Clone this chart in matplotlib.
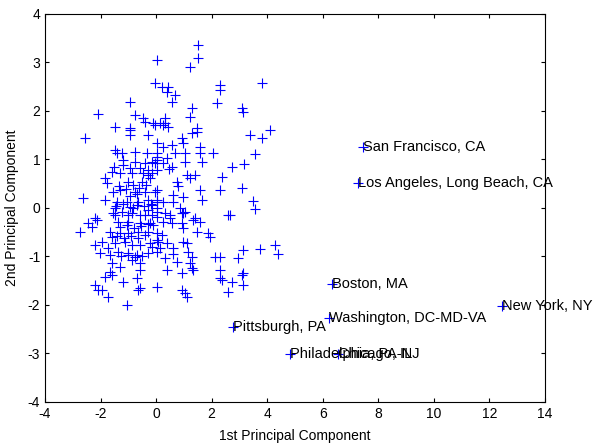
import numpy as np
import matplotlib
matplotlib.use("Agg")
import matplotlib.pyplot as plt

plt.rcParams["font.family"] = ["Liberation Sans", "DejaVu Sans"]
plt.rcParams["axes.unicode_minus"] = False

# scores on the first two principal components
pc1 = [
    0.03, -0.04, -0.94, -2.09, -0.76, -0.47, -0.04, -1.48, -0.94,
    1.51, 1.51, 1.22, 0.21, 0.43, 0.39, 0.68, 0.57, 2.30, 2.30, 2.19, 1.29, 1.22, 0.32, 0.25, 0.43, 1.47,
    3.81, 3.09, 3.13, 3.38, 3.81, 4.10, 3.56,
    3.16, 3.09, 3.49, 3.56, 3.13, 3.74, 4.28, 4.39, 2.95, 3.13, 2.73, 3.13, 2.59,
    -0.94, -0.94, -0.40, -0.29, -2.56, 0.03, -1.48, -1.41, -1.23, -0.76, -0.33, 0.03, -1.19, -0.76,
    -0.40, -0.15, 0.03, -0.94, -0.58, -0.29, -1.59, -1.30, -0.87, -0.47, -0.29, 0.03, -1.84, -1.01,
    -0.51, -0.22, -1.77, -1.30, -0.76, -0.40, 0.03, -1.55, -2.63, -1.84, -1.41, -1.05, -0.65, -0.29,
    0.03, -1.48, -0.83, -0.29, 0.03, -1.48, -1.01, -0.40, -2.20, 0.03,
    -0.11, 0.14, 0.32, 1.47, 0.93, 0.97, 1.29, 0.25, 0.57, 0.68, 1.04, 1.58, 1.58, 2.05, 0.03, 0.39,
    -0.04, 0.25, 0.57, 1.04, 1.65, 2.73, 1.11, 1.40, 1.22, 2.37, -0.15, 0.75, 1.58, 2.30, -0.04, 0.61,
    0.97, 1.65, 0.03, 0.25, -0.15, 0.61, 0.86, 0.50, 0.97, 2.66, 1.40,
    -1.55, -1.23, -0.87, -0.58, -0.15, -2.45, -2.13, -1.37, -1.01, -0.58, -0.22, -2.74, -2.31, -1.66,
    -1.30, -1.01, -0.65, -0.29, 0.03, -2.20, -1.95, -1.73, -1.48, -1.12, -0.87, -0.58, -0.22, 0.07,
    -2.02, -1.66, -1.37, -1.01, -0.69, -0.29, 0.03, -1.59, -1.30, -0.87, -0.58, -1.66, -1.59, -1.19,
    -0.69, -0.58, 0.03, -2.20, -2.09, -1.95, -0.65, -1.73, -1.05,
    0.03, 0.32, 0.50, 0.93, 1.04, 1.33, 1.58, -0.11, 0.25, 0.57, 0.93, 0.97, 1.47, 1.87, 1.94, 0.03,
    0.39, -0.15, 0.14, 0.61, 0.97, 1.11, 1.15, 1.29, 0.32, 0.75, 1.22, 1.29, 2.12, 2.30, 2.30, 0.39,
    0.93, 2.37, 0.93, 1.11, 2.59,
    -1.84, -0.58, 1.33, 1.04, 2.30, 3.09,
    # denser core
    -1.35, -1.10, -0.85, -0.60, -0.35, -1.45, -1.20, -0.95, -0.70, -0.45, -0.20,
    -1.30, -1.05, -0.80, -0.55, -0.30, -1.60, -1.40, -1.15, -0.90, -0.65, -0.40,
    -1.25, -1.00, -0.75, -0.50, -1.50, -1.20, -0.95, -0.70, 0.45, 0.80, 0.20, 0.60,
]
pc2 = [
    3.05, 2.58, 2.19, 1.94, 1.92, 1.86, 1.71, 1.67, 1.65,
    3.36, 3.09, 2.91, 2.49, 2.49, 2.39, 2.33, 2.19, 2.54, 2.43, 2.16, 2.06, 1.88, 1.86, 1.71, 1.67, 1.65,
    2.58, 2.06, 1.98, 1.51, 1.44, 1.61, 1.11,
    0.91, 0.41, 0.14, -0.02, -0.87, -0.85, -0.76, -0.95, -1.03, -1.34, -1.53, -1.59, -1.73,
    1.61, 1.51, 1.77, 1.51, 1.44, 1.34, 1.20, 1.13, 1.13, 1.15, 1.13, 1.13, 0.99, 0.95,
    0.93, 0.95, 0.99, 0.82, 0.82, 0.78, 0.74, 0.72, 0.72, 0.72, 0.68, 0.78, 0.62, 0.54,
    0.54, 0.62, 0.52, 0.37, 0.33, 0.33, 0.37, 0.33, 0.21, 0.16, 0.12, 0.12, 0.12, 0.16,
    0.12, 0.00, 0.00, -0.04, 0.00, -0.14, -0.14, -0.14, -0.21, -0.19,
    1.75, 1.75, 1.75, 1.57, 1.44, 1.34, 1.55, 1.26, 1.30, 1.13, 1.13, 1.26, 1.13, 1.13, 1.05, 1.03,
    0.93, 0.93, 0.85, 0.95, 0.95, 0.85, 0.68, 0.68, 0.62, 0.64, 0.72, 0.54, 0.37, 0.37, 0.33, 0.27,
    0.23, 0.16, 0.16, 0.12, 0.06, 0.12, 0.00, -0.14, -0.10, -0.14, -0.21,
    -0.10, -0.08, -0.10, -0.14, -0.14, -0.31, -0.25, -0.29, -0.29, -0.31, -0.31, -0.49, -0.39, -0.49,
    -0.52, -0.52, -0.49, -0.49, -0.52, -0.76, -0.70, -0.82, -0.72, -0.70, -0.76, -0.76, -0.72, -0.70,
    -0.93, -0.97, -0.91, -0.93, -0.97, -0.93, -0.91, -1.13, -1.22, -1.07, -1.13, -1.32, -1.38, -1.53,
    -1.44, -1.28, -1.63, -1.59, -1.69, -1.69, -1.69, -1.84, -2.00,
    -0.08, -0.10, -0.21, -0.10, -0.08, -0.25, -0.29, -0.35, -0.29, -0.31, -0.31, -0.41, -0.49, -0.52, -0.60, -0.66,
    -0.72, -0.80, -0.82, -0.82, -0.70, -0.72, -0.91, -1.01, -1.03, -1.11, -1.13, -1.24, -1.01, -1.01, -1.28, -1.28,
    -1.34, -1.48, -1.69, -1.84, -0.14,
    -1.42, -1.65, -1.28, -1.75, -1.44, -1.38,
    # denser core
    0.45, 0.40, 0.47, 0.42, 0.48, 0.05, 0.08, 0.03, 0.07, 0.04, 0.09,
    -0.40, -0.36, -0.42, -0.38, -0.33, -0.60, -0.57, -0.62, -0.58, -0.61, -0.56,
    -1.00, -0.96, -1.02, -0.98, 0.85, 0.88, 0.25, 0.28, 0.80, 0.45, -0.55, -0.95,
]

# labelled outliers
city_names = [
    "San Francisco, CA", "Los Angeles, Long Beach, CA", "Boston, MA",
    "Washington, DC-MD-VA", "New York, NY", "Pittsburgh, PA",
    "Philadelphia, PA-NJ", "Chicago, IL",
]
city_pc1 = [7.45, 7.27, 6.33, 6.22, 12.45, 2.77, 4.82, 6.55]
city_pc2 = [1.26, 0.52, -1.57, -2.27, -2.02, -2.45, -3.01, -3.01]


def main():
    fig = plt.figure(figsize=(5.96, 4.44), dpi=100)
    ax = fig.add_axes([0.0755, 0.0946, 0.839, 0.874])

    ax.plot(pc1, pc2, "+", color="#0000ff", markersize=7, markeredgewidth=0.8)
    ax.plot(city_pc1, city_pc2, "+", color="#0000ff", markersize=7, markeredgewidth=0.8)
    for name, x, y in zip(city_names, city_pc1, city_pc2):
        ax.text(x, y, name, ha="left", va="center", fontsize=10.5, clip_on=False)

    ax.set_xlim(-4, 14)
    ax.set_ylim(-4, 4)
    ax.set_xticks(np.arange(-4, 15, 2))
    ax.set_yticks(np.arange(-4, 5, 1))
    ax.tick_params(direction="in", length=3, top=True, right=True, labelsize=10, width=0.8)
    for sp in ax.spines.values():
        sp.set_linewidth(0.8)

    ax.set_xlabel("1st Principal Component", fontsize=10, labelpad=6)
    ax.set_ylabel("2nd Principal Component", fontsize=10, labelpad=6)

    fig.savefig("out.png", dpi=100)
    plt.close(fig)


if __name__ == "__main__":
    main()
